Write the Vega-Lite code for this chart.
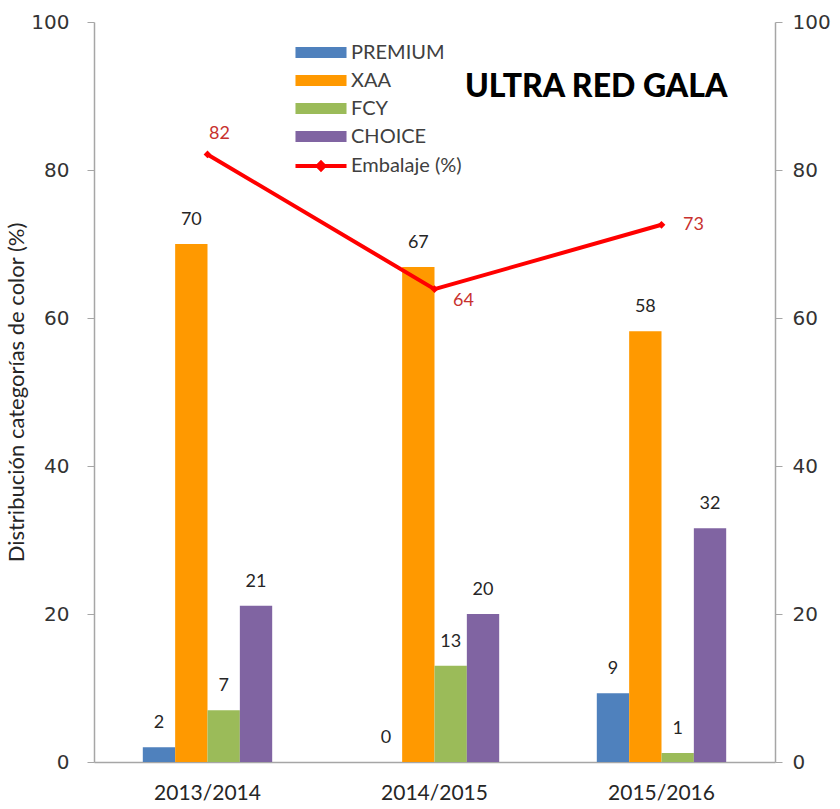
{
  "$schema": "https://vega.github.io/schema/vega-lite/v6.json",
  "width": 681,
  "height": 740,
  "autosize": {"type": "none"},
  "padding": {"left": 94, "top": 22, "right": 65, "bottom": 47},
  "background": "white",
  "config": {"view": {"stroke": null}, "font": "Lato"},
  "title": {"text": "ULTRA RED GALA", "anchor": "start", "frame": "group", "dx": 371, "dy": 117, "offset": 0, "baseline": "alphabetic", "fontSize": 32, "fontWeight": 900, "font": "Lato", "color": "#000000"},
  "datasets": {
    "bars": [
      {"year": "2013/2014", "cat": "PREMIUM", "value": 2.0},
      {"year": "2013/2014", "cat": "XAA", "value": 70.0},
      {"year": "2013/2014", "cat": "FCY", "value": 7.0},
      {"year": "2013/2014", "cat": "CHOICE", "value": 21.1},
      {"year": "2014/2015", "cat": "PREMIUM", "value": 0},
      {"year": "2014/2015", "cat": "XAA", "value": 66.9},
      {"year": "2014/2015", "cat": "FCY", "value": 13.0},
      {"year": "2014/2015", "cat": "CHOICE", "value": 20.0},
      {"year": "2015/2016", "cat": "PREMIUM", "value": 9.3},
      {"year": "2015/2016", "cat": "XAA", "value": 58.2},
      {"year": "2015/2016", "cat": "FCY", "value": 1.2},
      {"year": "2015/2016", "cat": "CHOICE", "value": 31.6}
    ],
    "line": [
      {"year": "2013/2014", "serie": "Embalaje (%)", "value": 82.1},
      {"year": "2014/2015", "serie": "Embalaje (%)", "value": 63.9},
      {"year": "2015/2016", "serie": "Embalaje (%)", "value": 72.6}
    ]
  },
  "encoding": {
    "x": {"field": "year", "type": "nominal", "scale": {"paddingInner": 0.43, "paddingOuter": 0.215},
      "axis": {"title": null, "labelAngle": 0, "ticks": false, "labelFont": "Lato", "labelFontSize": 21, "labelColor": "#262626", "labelPadding": 20, "domainColor": "#A6A6A6", "domainWidth": 1.5}}
  },
  "layer": [
    {
      "data": {"name": "bars"},
      "encoding": {
        "xOffset": {"field": "cat", "type": "nominal", "sort": ["PREMIUM", "XAA", "FCY", "CHOICE"], "scale": {"paddingInner": 0, "paddingOuter": 0}},
        "y": {"field": "value", "type": "quantitative", "scale": {"domain": [0, 100], "nice": false},
          "axis": {"title": "Distribución categorías de color (%)", "titleFont": "Lato", "titleFontSize": 22, "titleFontWeight": "normal", "titleColor": "#262626", "values": [0, 20, 40, 60, 80, 100], "grid": false, "domainColor": "#A6A6A6", "domainWidth": 1.5, "tickColor": "#A6A6A6", "tickSize": 7, "labelFont": "DejaVu Sans", "labelFontSize": 20, "labelColor": "#333333", "labelPadding": 18, "titlePadding": 2}}
      },
      "layer": [
        {
          "mark": {"type": "bar"},
          "encoding": {
            "color": {"field": "cat", "type": "nominal", "sort": ["PREMIUM", "XAA", "FCY", "CHOICE"],
              "scale": {"domain": ["PREMIUM", "XAA", "FCY", "CHOICE"], "range": ["#4F81BD", "#FF9900", "#9BBB59", "#8064A2"]},
              "legend": {"orient": "none", "legendX": 197, "legendY": 16.5, "title": null, "symbolType": "M-4.64,-1H4.64V1H-4.64Z", "symbolSize": 121, "symbolOffset": 20, "labelOffset": 20, "clipHeight": 28, "rowPadding": 0, "padding": 0, "labelFont": "Lato", "labelFontSize": 20, "labelColor": "#404040", "symbolStrokeWidth": 0}}
          }
        },
        {
          "mark": {"type": "text", "baseline": "alphabetic", "dy": -19, "fontSize": 18, "font": "Lato", "color": "#262626"},
          "encoding": {"text": {"field": "value", "type": "quantitative", "format": ".0f"}}
        }
      ]
    },
    {
      "data": {"name": "line"},
      "encoding": {
        "y": {"field": "value", "type": "quantitative", "scale": {"domain": [0, 100], "nice": false},
          "axis": {"orient": "right", "title": null, "values": [0, 20, 40, 60, 80, 100], "grid": false, "domainColor": "#A6A6A6", "domainWidth": 1.5, "tickColor": "#A6A6A6", "tickSize": 7, "labelFont": "DejaVu Sans", "labelFontSize": 20, "labelColor": "#333333", "labelPadding": 10}}
      },
      "layer": [
        {
          "mark": {"type": "line", "strokeWidth": 4},
          "encoding": {
            "stroke": {"field": "serie", "type": "nominal", "scale": {"range": ["#FF0000"]},
              "legend": {"orient": "none", "legendX": 197, "legendY": 130, "title": null, "symbolType": "M-4.64,0H4.64M0,-0.6L0.6,0L0,0.6L-0.6,0Z", "symbolSize": 121, "symbolOffset": 20, "labelOffset": 20, "clipHeight": 28, "padding": 0, "labelFont": "Lato", "labelFontSize": 20, "labelColor": "#404040", "symbolStrokeWidth": 4, "symbolFillColor": "#FF0000"}}
          }
        },
        {
          "mark": {"type": "point", "shape": "diamond", "filled": true, "color": "#FF0000", "size": 60, "opacity": 1}
        },
        {
          "transform": [{"filter": "datum.year == '2013/2014'"}],
          "mark": {"type": "text", "dx": 12, "dy": -20, "baseline": "middle", "fontSize": 18, "font": "Lato", "color": "#C8312E"},
          "encoding": {"text": {"field": "value", "type": "quantitative", "format": ".0f"}}
        },
        {
          "transform": [{"filter": "datum.year == '2014/2015'"}],
          "mark": {"type": "text", "dx": 29, "dy": 12, "baseline": "middle", "fontSize": 18, "font": "Lato", "color": "#C8312E"},
          "encoding": {"text": {"field": "value", "type": "quantitative", "format": ".0f"}}
        },
        {
          "transform": [{"filter": "datum.year == '2015/2016'"}],
          "mark": {"type": "text", "dx": 32, "dy": 0, "baseline": "middle", "fontSize": 18, "font": "Lato", "color": "#C8312E"},
          "encoding": {"text": {"field": "value", "type": "quantitative", "format": ".0f"}}
        }
      ]
    }
  ],
  "resolve": {"scale": {"y": "independent"}}
}
